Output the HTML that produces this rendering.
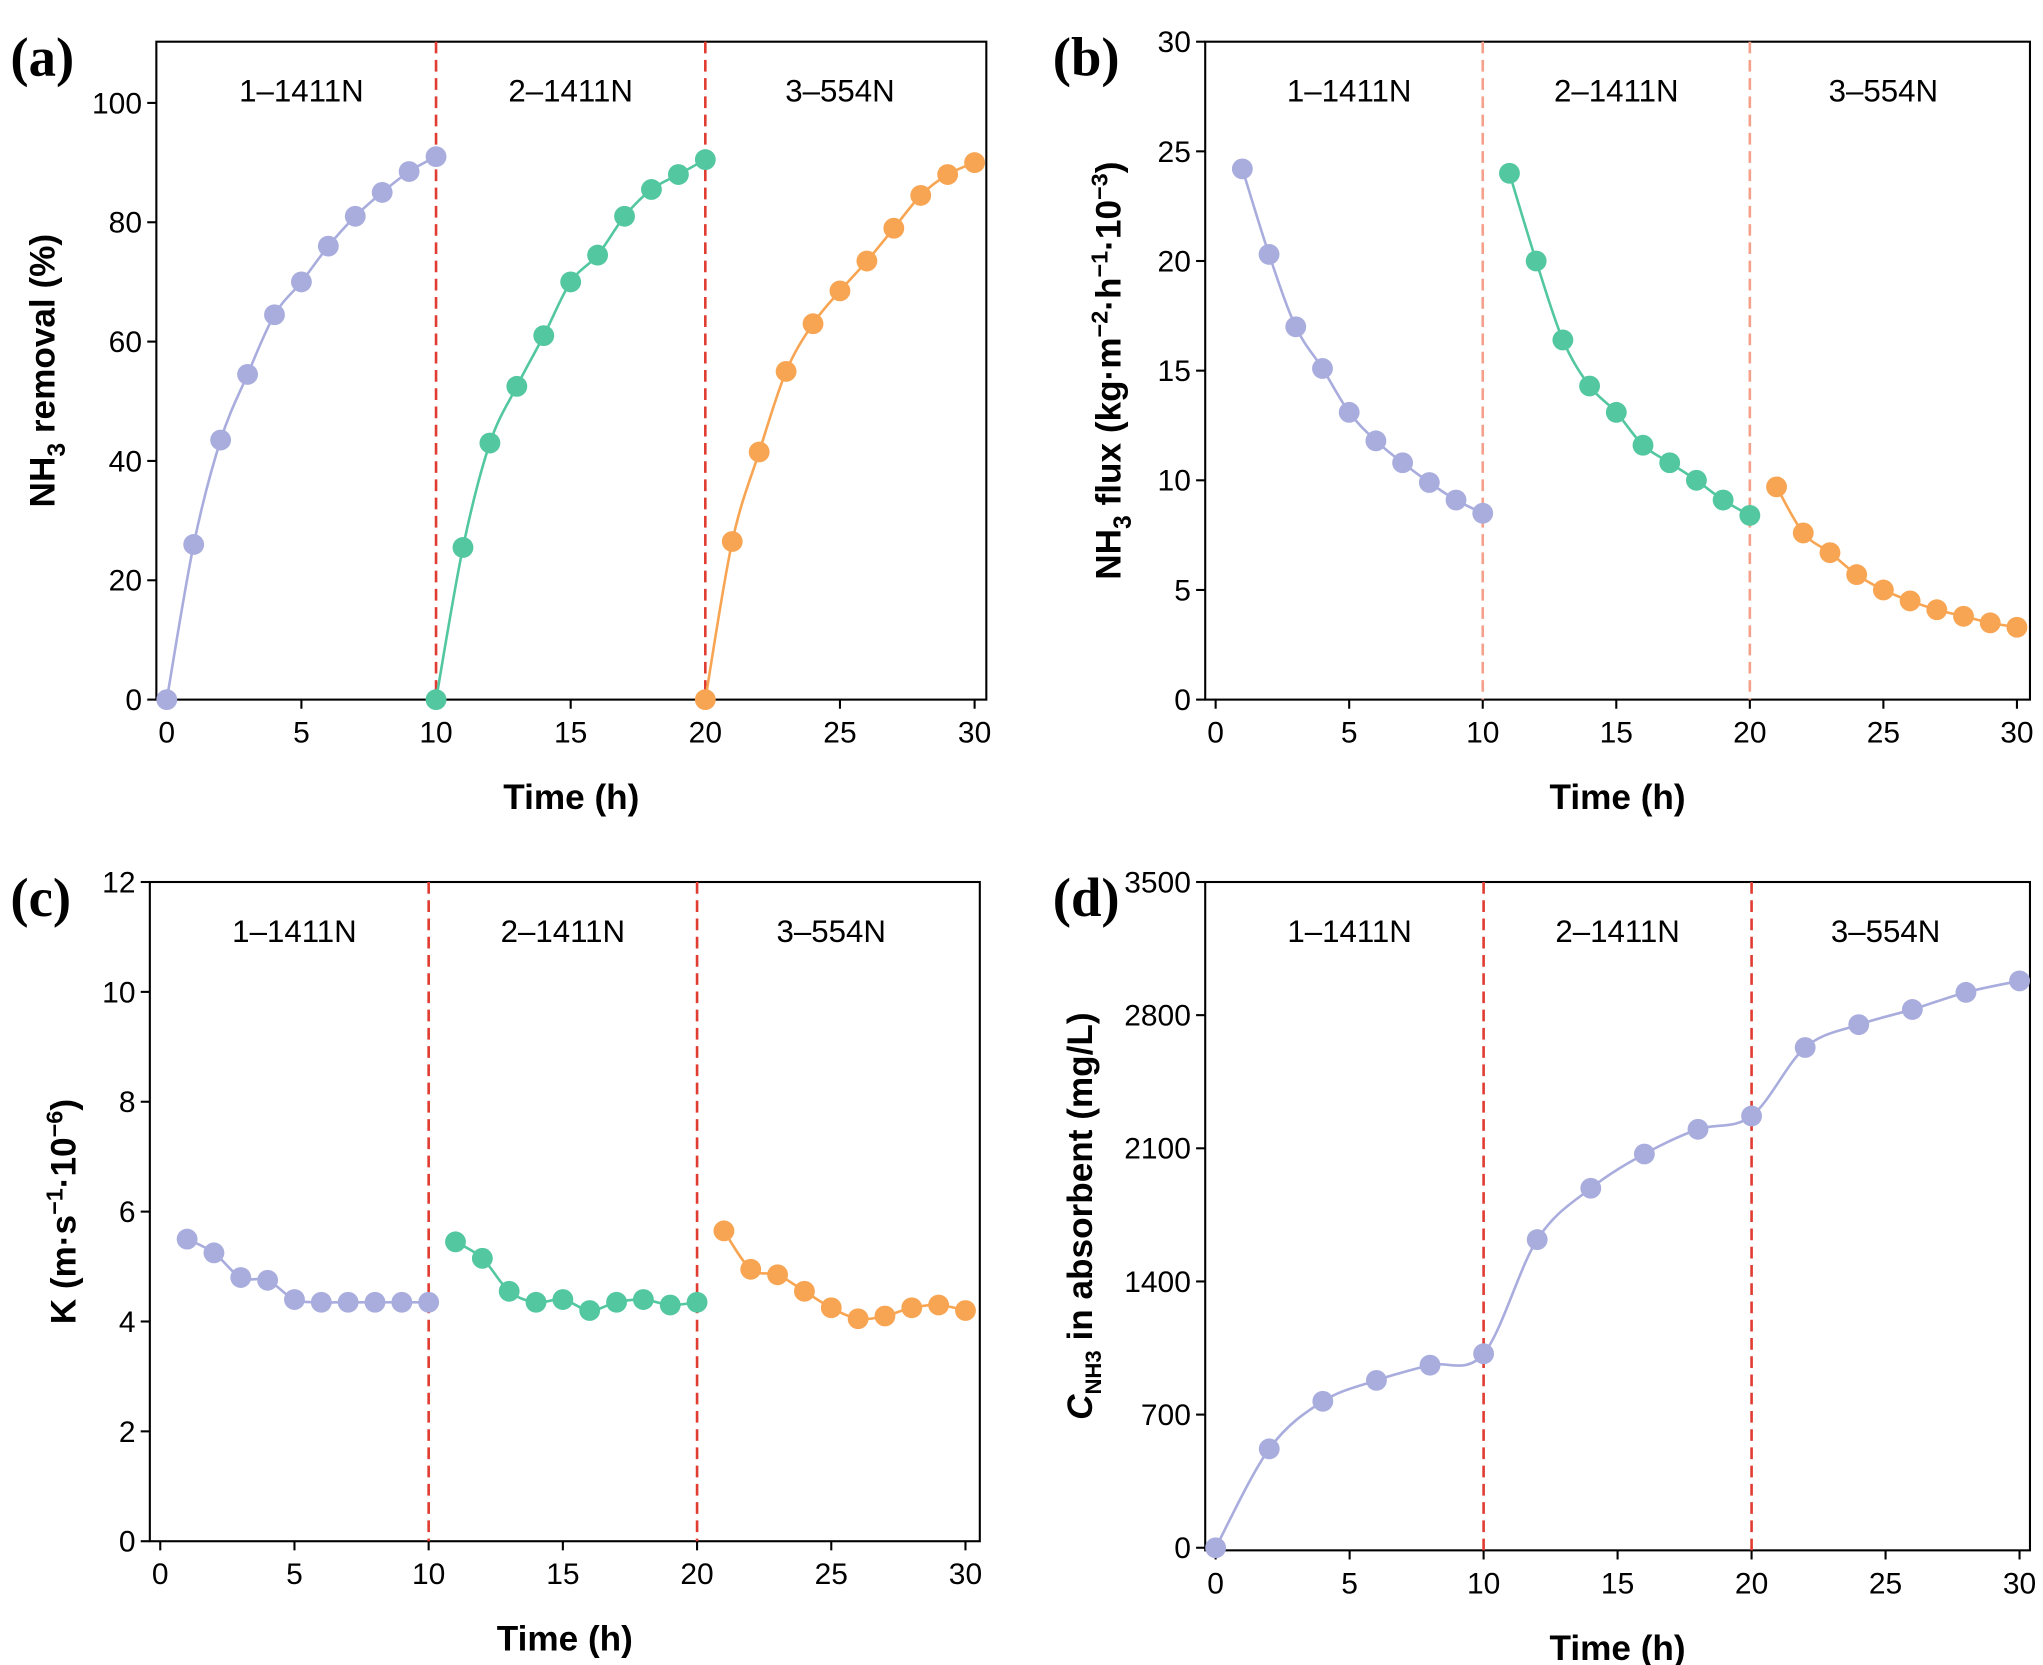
<!DOCTYPE html>
<html><head><meta charset="utf-8"><style>
html,body{margin:0;padding:0;background:#fff;}
svg{display:block;}
text{font-family:"Liberation Sans",Arial,sans-serif;}
</style></head><body>
<svg id="fig" width="2043" height="1665" viewBox="0 0 1568 1278" preserveAspectRatio="none" xmlns="http://www.w3.org/2000/svg"></svg>
<script>
// ---- data ----
const xsA1=[0,1,2,3,4,5,6,7,8,9,10];
const removal1=[0,26,43.5,54.5,64.5,70,76,81,85,88.5,91];
const xsA2=[10,11,12,13,14,15,16,17,18,19,20];
const removal2=[0,25.5,43,52.5,61,70,74.5,81,85.5,88,90.5];
const xsA3=[20,21,22,23,24,25,26,27,28,29,30];
const removal3=[0,26.5,41.5,55,63,68.5,73.5,79,84.5,88,90];
const xsB1=[1,2,3,4,5,6,7,8,9,10];
const flux1=[24.2,20.3,17,15.1,13.1,11.8,10.8,9.9,9.1,8.5];
const xsB2=[11,12,13,14,15,16,17,18,19,20];
const flux2=[24,20,16.4,14.3,13.1,11.6,10.8,10,9.1,8.4];
const xsB3=[21,22,23,24,25,26,27,28,29,30];
const flux3=[9.7,7.6,6.7,5.7,5.0,4.5,4.1,3.8,3.5,3.3];
const kVal1=[5.5,5.25,4.8,4.75,4.4,4.35,4.35,4.35,4.35,4.35];
const kVal2=[5.45,5.15,4.55,4.35,4.4,4.2,4.35,4.4,4.3,4.35];
const kVal3=[5.65,4.95,4.85,4.55,4.25,4.05,4.1,4.25,4.3,4.2];
const xsD=[0,2,4,6,8,10,12,14,16,18,20,22,24,26,28,30];
const conc=[0,520,770,880,960,1020,1620,1890,2070,2200,2270,2630,2750,2830,2920,2980];
const xTicks=[0,5,10,15,20,25,30];
const yTicksA=[0,20,40,60,80,100];
const yTicksB=[0,5,10,15,20,25,30];
const yTicksC=[0,2,4,6,8,10,12];
const yTicksD=[0,700,1400,2100,2800,3500];
const segLabels=["1\u20131411N","2\u20131411N","3\u2013554N"];
const segCenters=[5,15,25];
const dividers=[10,20];

const PURPLE="#a9addd",GREEN="#52c7a0",ORANGE="#f8a553";
const NS="http://www.w3.org/2000/svg";
const svg=document.getElementById('fig');
function mk(tag,attrs,parent){const e=document.createElementNS(NS,tag);for(const k in attrs)e.setAttribute(k,attrs[k]);(parent||svg).appendChild(e);return e;}

function smoothPath(pts){
  let d=`M${pts[0][0]},${pts[0][1]}`;
  for(let i=0;i<pts.length-1;i++){
    const p0=pts[i-1]||pts[i],p1=pts[i],p2=pts[i+1],p3=pts[i+2]||p2;
    const c1=[p1[0]+(p2[0]-p0[0])/6,p1[1]+(p2[1]-p0[1])/6];
    const c2=[p2[0]-(p3[0]-p1[0])/6,p2[1]-(p3[1]-p1[1])/6];
    d+=` C${c1[0]},${c1[1]} ${c2[0]},${c2[1]} ${p2[0]},${p2[1]}`;
  }
  return d;
}

function panel(cfg){
  const g=mk('g',{});
  
  
  const sx=v=>cfg.x0+(v-0)*(cfg.x30-cfg.x0)/30;
  const sy=v=>cfg.yb-(v/cfg.ymax)*(cfg.yb-cfg.yt);
  // frame
  const fr=mk('rect',{x:cfg.L,y:cfg.yt,width:cfg.R-cfg.L,height:cfg.B-cfg.yt,fill:'none',stroke:'#000','stroke-width':1.6},g);
  
  
  // x ticks
  xTicks.forEach(t=>{
    const x=sx(t);
    mk('line',{x1:x,y1:cfg.B,x2:x,y2:cfg.B+7,stroke:'#000','stroke-width':1.6},g);
    const tx=mk('text',{x:x,y:cfg.B+33,'font-size':23,'text-anchor':'middle'},g);
    tx.textContent=t;
    
    
  });
  cfg.yTicks.forEach(t=>{
    const y=sy(t);
    mk('line',{x1:cfg.L-7,y1:y,x2:cfg.L,y2:y,stroke:'#000','stroke-width':1.6},g);
    const tx=mk('text',{x:cfg.L-11,y:y+8,'font-size':23,'text-anchor':'end'},g);
    tx.textContent=t;
    
    
  });
  // x title
  const xt=mk('text',{x:(cfg.L+cfg.R)/2,y:cfg.B+84,'font-size':27,'font-weight':'bold','text-anchor':'middle'},g);
  xt.textContent='Time (h)';
  
  
  // y title
  const yt=mk('text',{transform:`translate(${cfg.ytx},${(cfg.yt+cfg.B)/2}) rotate(-90)`,'font-size':27,'font-weight':'bold','text-anchor':'middle'},g);
  yt.innerHTML=cfg.ytitle;
  
  
  // panel letter
  const pl=mk('text',{x:cfg.plx,y:cfg.yt+26,'font-size':42,'font-weight':'bold',style:'font-family:"Liberation Serif",serif'},g);
  pl.textContent='('+cfg.id+')';
  
  
  // dividers
  dividers.forEach(v=>{
    const l=mk('line',{x1:sx(v),y1:cfg.yt,x2:sx(v),y2:cfg.B,stroke:cfg.divColor,'stroke-width':2,'stroke-dasharray':'9,5'},g);
    
    
  });
  segLabels.forEach((s,i)=>{
    const t=mk('text',{x:sx(segCenters[i]),y:cfg.yt+46,'font-size':24,'text-anchor':'middle'},g);
    t.textContent=s;
    
    
  });
  // series
  cfg.series.forEach((s,si)=>{
    const pts=s.xs.map((x,i)=>[sx(x),sy(s.ys[i])]);
    const p=mk('path',{d:smoothPath(pts),fill:'none',stroke:s.color,'stroke-width':2},g);
    
    
    pts.forEach(pt=>{
      const c=mk('circle',{cx:pt[0],cy:pt[1],r:8,fill:s.color},g);
      
      
    });
  });
}

panel({id:'a',L:120,R:757,yt:32,B:537,x0:128,x30:748,yb:537,ymax:110*0+100*(537-32)/(537-79)/1,
  yTicks:yTicksA,ytx:42,plx:8,divColor:'#e03c31',
  ytitle:'NH<tspan font-size="19" dy="8">3</tspan><tspan dy="-8"> removal (%)</tspan>',
  series:[{xs:xsA1,ys:removal1,color:PURPLE},{xs:xsA2,ys:removal2,color:GREEN},{xs:xsA3,ys:removal3,color:ORANGE}]});
panel({id:'b',L:925,R:1558,yt:32,B:537,x0:933,x30:1548,yb:537,ymax:30,
  yTicks:yTicksB,ytx:860,plx:808,divColor:'#f4a08a',
  ytitle:'NH<tspan font-size="19" dy="8">3</tspan><tspan dy="-8"> flux (kg·m</tspan><tspan font-size="18" dy="-10">−2</tspan><tspan dy="10">·h</tspan><tspan font-size="18" dy="-10">−1</tspan><tspan dy="10">·10</tspan><tspan font-size="18" dy="-10">−3</tspan><tspan dy="10">)</tspan>',
  series:[{xs:xsB1,ys:flux1,color:PURPLE},{xs:xsB2,ys:flux2,color:GREEN},{xs:xsB3,ys:flux3,color:ORANGE}]});
panel({id:'c',L:115,R:752,yt:677,B:1183,x0:123,x30:741,yb:1183,ymax:12,
  yTicks:yTicksC,ytx:58,plx:8,divColor:'#e03c31',
  ytitle:'K (m·s<tspan font-size="18" dy="-10">−1</tspan><tspan dy="10">·10</tspan><tspan font-size="18" dy="-10">−6</tspan><tspan dy="10">)</tspan>',
  series:[{xs:xsB1,ys:kVal1,color:PURPLE},{xs:xsB2,ys:kVal2,color:GREEN},{xs:xsB3,ys:kVal3,color:ORANGE}]});
panel({id:'d',L:925,R:1558,yt:677,B:1190,x0:933,x30:1550,yb:1188,ymax:3500*(1188-677)/(1188-677),
  yTicks:yTicksD,ytx:838,plx:808,divColor:'#e03c31',
  ytitle:'<tspan font-style="italic">C</tspan><tspan font-size="17" dy="7">NH3</tspan><tspan dy="-7"> in absorbent (mg/L)</tspan>',
  series:[{xs:xsD,ys:conc,color:PURPLE}]});
</script>
</body></html>
